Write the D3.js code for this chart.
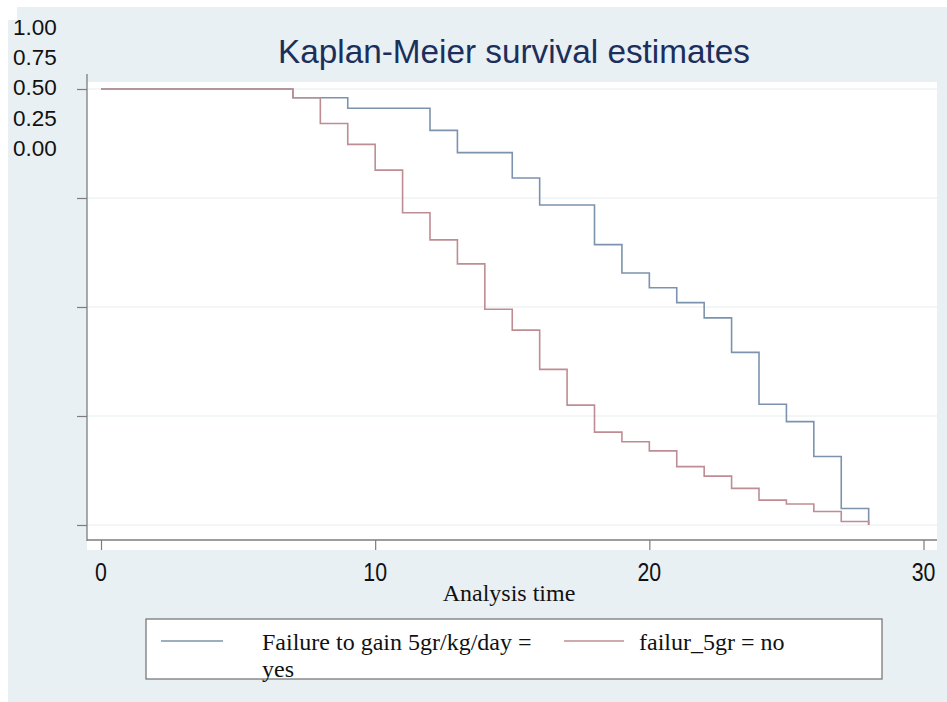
<!DOCTYPE html>
<html>
<head>
<meta charset="utf-8">
<script src="https://cdn.jsdelivr.net/npm/d3@7"></script>
<style>
  html, body { margin: 0; padding: 0; background: #ffffff; }
  svg { display: block; }
</style>
</head>
<body>
<svg id="chart" width="947" height="702"></svg>
<script>
// ---- data ----
const chartTitle = "Kaplan-Meier survival estimates";
const xAxisTitle = "Analysis time";
const xTicks = [0, 10, 20, 30];
const yTicks = [0, 0.25, 0.5, 0.75, 1];
const yTickLabels = ["1.00", "0.75", "0.50", "0.25", "0.00"];
const seriesNames = ["Failure to gain 5gr/kg/day = yes", "failur_5gr = no"];
const timeYes = [0, 7, 9, 12, 13, 15, 16, 18, 19, 20, 21, 22, 23, 24, 25, 26, 27, 28];
const survYes = [1, 0.980, 0.956, 0.905, 0.854, 0.796, 0.734, 0.643, 0.578, 0.544, 0.510, 0.475, 0.396, 0.277, 0.237, 0.157, 0.038, 0];
const timeNo = [0, 7, 8, 9, 10, 11, 12, 13, 14, 15, 16, 17, 18, 19, 20, 21, 22, 23, 24, 25, 26, 27, 28];
const survNo = [1, 0.980, 0.921, 0.873, 0.814, 0.716, 0.654, 0.599, 0.495, 0.447, 0.357, 0.275, 0.213, 0.191, 0.170, 0.134, 0.112, 0.084, 0.057, 0.048, 0.031, 0.008, 0];

// ---- layout ----
const svg = d3.select("#chart");
const bg = "#e8f0f3";
const axisColor = "#7d7d7d";
const colors = ["#7d93ad", "#be8d93"];

svg.append("rect").attr("x", 8).attr("y", 7).attr("width", 939).attr("height", 695).attr("fill", bg);
svg.append("rect").attr("x", 8).attr("y", 7).attr("width", 9).attr("height", 13).attr("fill", "#ffffff");

// plot region (white)
svg.append("rect").attr("x", 87).attr("y", 82).attr("width", 850).attr("height", 468).attr("fill", "#ffffff");

const x = d3.scaleLinear().domain([0, 30]).range([101, 923.5]);
const y = d3.scaleLinear().domain([0, 1]).range([525, 89]);

// gridlines
svg.append("g").selectAll("line").data(yTicks).join("line")
  .attr("x1", 87).attr("x2", 937)
  .attr("y1", d => y(d)).attr("y2", d => y(d))
  .attr("stroke", "#eef3f5").attr("stroke-width", 1.5);

// title
svg.append("text").attr("x", 514).attr("y", 63).attr("text-anchor", "middle")
  .attr("font-family", "Liberation Sans, Arial, sans-serif").attr("font-size", 33.3)
  .attr("fill", "#1c2f5c").text(chartTitle);

// y axis
const yAxis = svg.append("g").attr("transform", "translate(87,0)")
  .call(d3.axisLeft(y).tickValues(yTicks).tickFormat("").tickSize(10).tickSizeOuter(0));
yAxis.select(".domain").remove();
yAxis.selectAll(".tick line").attr("stroke", axisColor).attr("stroke-width", 1.2);
svg.append("line").attr("x1", 87).attr("x2", 87).attr("y1", 74).attr("y2", 541)
  .attr("stroke", axisColor).attr("stroke-width", 1.3);

// stacked y tick labels
svg.append("g").selectAll("text").data(yTickLabels).join("text")
  .attr("x", 13).attr("y", (d, i) => 35 + i * 30.2)
  .attr("font-family", "Liberation Sans, Arial, sans-serif").attr("font-size", 22.5)
  .attr("fill", "#111").text(d => d);

// x axis
const xAxis = svg.append("g").attr("transform", "translate(0,540)")
  .call(d3.axisBottom(x).tickValues(xTicks).tickFormat("").tickSize(10).tickSizeOuter(0));
xAxis.select(".domain").remove();
xAxis.selectAll(".tick line").attr("stroke", axisColor).attr("stroke-width", 1.2);
svg.append("line").attr("x1", 87).attr("x2", 937).attr("y1", 540).attr("y2", 540)
  .attr("stroke", axisColor).attr("stroke-width", 1.3);

svg.append("g").selectAll("text").data(xTicks).join("text")
  .attr("transform", d => `translate(${x(d)},581) scale(0.82,1)`)
  .attr("text-anchor", "middle")
  .attr("font-family", "Liberation Sans, Arial, sans-serif").attr("font-size", 26)
  .attr("fill", "#111").text(d => d);

svg.append("text").attr("x", 509).attr("y", 601).attr("text-anchor", "middle")
  .attr("font-family", "Liberation Serif, Times New Roman, serif").attr("font-size", 24)
  .attr("fill", "#111").text(xAxisTitle);

// survival curves
const line = d3.line().x(d => x(d[0])).y(d => y(d[1])).curve(d3.curveStepAfter);
const series = [
  d3.zip(timeYes, survYes),
  d3.zip(timeNo, survNo)
];
svg.append("g").selectAll("path").data(series).join("path")
  .attr("d", d => line(d))
  .attr("fill", "none")
  .attr("stroke", (d, i) => colors[i])
  .attr("stroke-width", 1.6);

// legend
const lg = svg.append("g");
lg.append("rect").attr("x", 146).attr("y", 619).attr("width", 736).attr("height", 60)
  .attr("fill", "#ffffff").attr("stroke", "#6f6f6f").attr("stroke-width", 1.2);
const legendItems = [
  { x1: 161, x2: 223, tx: 262, lines: ["Failure to gain 5gr/kg/day =", "yes"] },
  { x1: 564, x2: 624, tx: 639, lines: ["failur_5gr = no"] }
];
legendItems.forEach((it, i) => {
  lg.append("line").attr("x1", it.x1).attr("x2", it.x2).attr("y1", 641).attr("y2", 641)
    .attr("stroke", colors[i]).attr("stroke-width", 1.6);
  it.lines.forEach((t, j) => {
    lg.append("text").attr("x", it.tx).attr("y", 650 + j * 27)
      .attr("font-family", "Liberation Serif, Times New Roman, serif").attr("font-size", 24)
      .attr("fill", "#111").text(t);
  });
});
</script>
</body>
</html>
